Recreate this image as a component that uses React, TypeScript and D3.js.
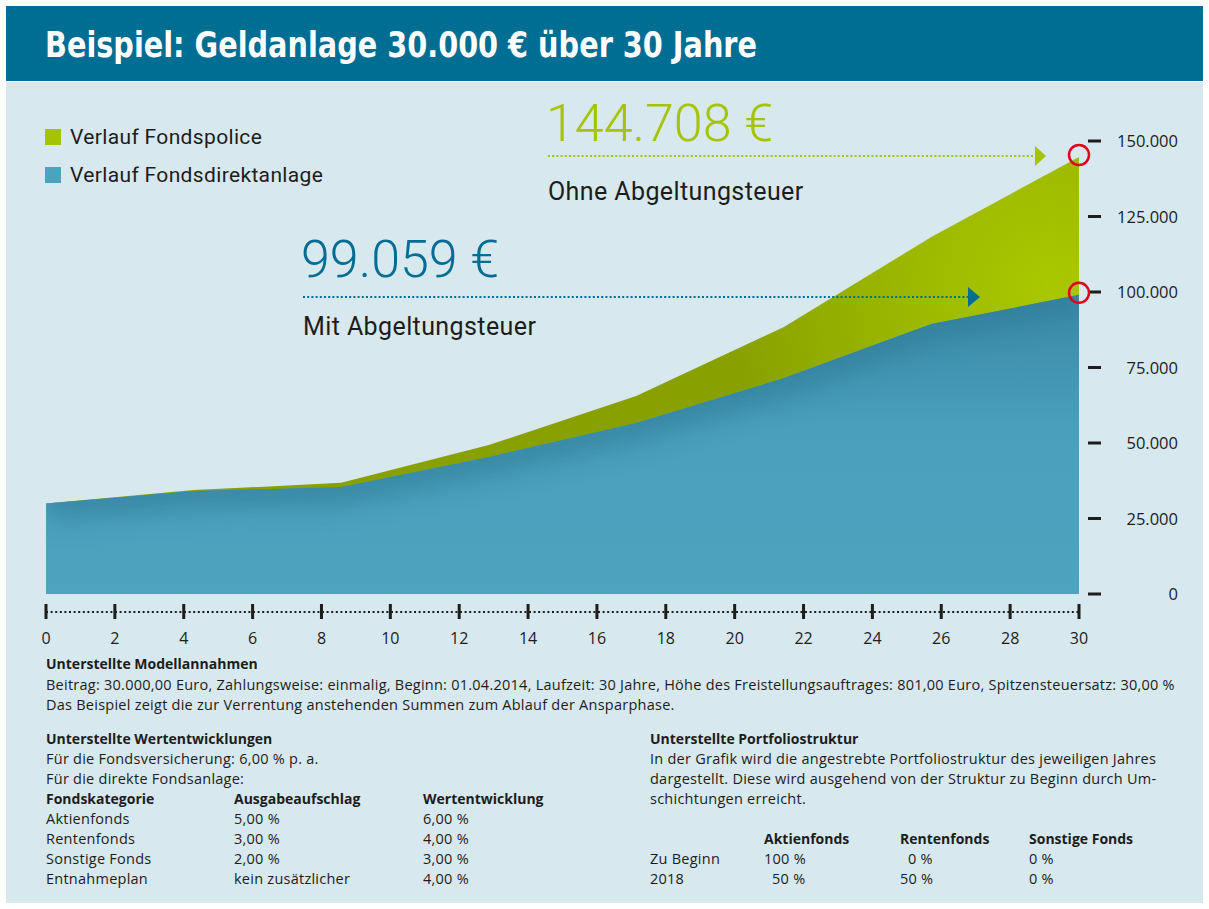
import * as d3 from "d3";

// Jahre, an denen die Kurven ihre Knickpunkte haben
const years = [0, 4.29, 8.57, 12.86, 17.14, 21.43, 25.71, 30];
// Verlauf Fondspolice (ohne Abgeltungsteuer)
const fondspolice = [30000, 34400, 36800, 49300, 65600, 88400, 118200, 144708];
// Verlauf Fondsdirektanlage (mit Abgeltungsteuer)
const direktanlage = [30000, 34100, 35400, 45400, 56600, 71500, 89400, 99059];

const yTicks = [0, 25000, 50000, 75000, 100000, 125000, 150000];
const xTicks = [0, 2, 4, 6, 8, 10, 12, 14, 16, 18, 20, 22, 24, 26, 28, 30];

const legendItems = ["Verlauf Fondspolice", "Verlauf Fondsdirektanlage"];

const modellLines = [
  "Beitrag: 30.000,00 Euro, Zahlungsweise: einmalig, Beginn: 01.04.2014, Laufzeit: 30 Jahre, Höhe des Freistellungsauftrages: 801,00 Euro, Spitzensteuersatz: 30,00 %",
  "Das Beispiel zeigt die zur Verrentung anstehenden Summen zum Ablauf der Ansparphase.",
];
const wertIntro = ["Für die Fondsversicherung: 6,00 % p. a.", "Für die direkte Fondsanlage:"];
const wertHeader = ["Fondskategorie", "Ausgabeaufschlag", "Wertentwicklung"];
const wertRows = [
  ["Aktienfonds", "5,00 %", "6,00 %"],
  ["Rentenfonds", "3,00 %", "4,00 %"],
  ["Sonstige Fonds", "2,00 %", "3,00 %"],
  ["Entnahmeplan", "kein zusätzlicher", "4,00 %"],
];
const portLines = [
  "In der Grafik wird die angestrebte Portfoliostruktur des jeweiligen Jahres",
  "dargestellt. Diese wird ausgehend von der Struktur zu Beginn durch Um-",
  "schichtungen erreicht.",
];
const portHeader = ["", "Aktienfonds", "Rentenfonds", "Sonstige Fonds"];
const portRows = [
  ["Zu Beginn", "100 %", "  0 %", "0 %"],
  ["2018", "  50 %", "50 %", "0 %"],
];

const W = 1209;
const H = 909;
const GREEN = "#a6c300";
const BLUE = "#4ca3c0";
const DARKBLUE = "#006e94";
const TEXT = "#1d1d1b";
const BODY_FONT = "'Open Sans', sans-serif";
const DISPLAY_FONT = "Roboto, sans-serif";

const de = d3.formatLocale({ decimal: ",", thousands: ".", grouping: [3], currency: ["", " €"] });
const fmt = de.format(",.0f");

export default function App() {
  const x = d3.scaleLinear().domain([0, 30]).range([46, 1079]);
  const y = d3.scaleLinear().domain([0, 150000]).range([594, 141]);

  const area = d3.area<number>()
    .x((_, i) => x(years[i]))
    .y0(y(0))
    .y1((d) => y(d));
  const topLine = d3.line<number>()
    .x((_, i) => x(years[i]))
    .y((d) => y(d));

  const last = years.length - 1;
  const gEnd = fondspolice[last];
  const bEnd = direktanlage[last];

  const body = { fontSize: 14.5, letterSpacing: 0.25 };

  return (
    <svg width={W} height={H} style={{ position: "absolute", left: 0, top: 0 }} fontFamily={BODY_FONT}>
      <defs>
        <radialGradient id="greenGrad" gradientUnits="userSpaceOnUse" cx={1050} cy={285} r={330}>
          <stop offset="0" stopColor="#a9c800" />
          <stop offset="0.35" stopColor="#9fbb00" />
          <stop offset="1" stopColor="#88a000" />
        </radialGradient>
        <linearGradient id="blueGrad" x1="0" y1="0" x2="0" y2="1">
          <stop offset="0" stopColor="#3a89a6" />
          <stop offset="0.45" stopColor="#4a9fbc" />
          <stop offset="1" stopColor="#4ea3bf" />
        </linearGradient>
        <clipPath id="blueClip">
          <path d={area(direktanlage) ?? ""} />
        </clipPath>
        <filter id="soft" x="-20%" y="-20%" width="140%" height="140%">
          <feGaussianBlur stdDeviation="14" />
        </filter>
      </defs>

      {/* Hintergrund */}
      <rect x={6} y={6} width={1197} height={75} fill="#006d93" />
      <rect x={6} y={82} width={1197} height={821} fill="#d7e8ef" />
      <text x={45} y={57} fill="#fff" fontFamily="'DejaVu Sans', sans-serif" fontWeight="bold" fontSize={35}
        textLength={712} lengthAdjust="spacingAndGlyphs">
        Beispiel: Geldanlage 30.000 € über 30 Jahre
      </text>

      {/* Flächen */}
      <path d={area(fondspolice) ?? ""} fill="url(#greenGrad)" />
      <path d={area(direktanlage) ?? ""} fill="url(#blueGrad)" />
      <g clipPath="url(#blueClip)">
        <path d={topLine(direktanlage) ?? ""} fill="none" stroke="#2e7b98" strokeWidth={30} filter="url(#soft)" opacity={0.75} />
        <line x1={x(0) - 4} x2={x(0) - 4} y1={y(0)} y2={y(40000)} stroke="#2e7b98" strokeWidth={16} filter="url(#soft)" opacity={0.7} />
      </g>

      {/* y-Achse */}
      {yTicks.map((t) => (
        <g key={t}>
          <rect x={1088} y={y(t) - 1.5} width={13} height={3} fill={TEXT} />
          <text x={1178} y={y(t) + 6} textAnchor="end" fontSize={16.5} fill={TEXT}>
            {fmt(t)}
          </text>
        </g>
      ))}

      {/* x-Achse */}
      <line x1={x(0)} x2={x(30)} y1={612} y2={612} stroke={TEXT} strokeWidth={2} strokeDasharray="2 2.6" />
      {xTicks.map((t) => (
        <g key={t}>
          <rect x={x(t) - 1.5} y={604} width={3} height={15} fill={TEXT} />
          <text x={x(t)} y={644} textAnchor="middle" fontSize={16} fill={TEXT}>
            {t}
          </text>
        </g>
      ))}

      {/* Markierungen */}
      {[gEnd, bEnd].map((v) => (
        <circle key={v} cx={x(30)} cy={y(v) - 2} r={10} fill="none" stroke="#e2001a" strokeWidth={2.5} />
      ))}

      {/* Legende */}
      {legendItems.map((l, i) => (
        <g key={l} transform={`translate(45,${129 + i * 38})`}>
          <rect width={16} height={16} fill={i === 0 ? GREEN : BLUE} />
          <text x={25} y={15} fontSize={21} letterSpacing={0.35} fontFamily={DISPLAY_FONT} fill={TEXT}>
            {l}
          </text>
        </g>
      ))}

      {/* Annotation Fondspolice */}
      <text x={546} y={141} fontSize={52} fontWeight={300} fontFamily={DISPLAY_FONT} fill={GREEN}>
        {de.format("$,.0f")(gEnd)}
      </text>
      <line x1={548} x2={1034} y1={156} y2={156} stroke={GREEN} strokeWidth={2.2} strokeDasharray="2 2.2" />
      <path d="M1035,146 L1046,156 L1035,166 Z" fill={GREEN} />
      <text x={548} y={200} fontSize={25} letterSpacing={0.4} fontFamily={DISPLAY_FONT} fill={TEXT}>
        Ohne Abgeltungsteuer
      </text>

      {/* Annotation Direktanlage */}
      <text x={301} y={277} fontSize={52} fontWeight={300} fontFamily={DISPLAY_FONT} fill={DARKBLUE}>
        {de.format("$,.0f")(bEnd)}
      </text>
      <line x1={303} x2={968} y1={297} y2={297} stroke={DARKBLUE} strokeWidth={2.2} strokeDasharray="2 2.2" />
      <path d="M968,287 L980,297 L968,307 Z" fill={DARKBLUE} />
      <text x={303} y={335} fontSize={25} letterSpacing={0.4} fontFamily={DISPLAY_FONT} fill={TEXT}>
        Mit Abgeltungsteuer
      </text>

      {/* Fußnoten */}
      <g fill={TEXT}>
        <text x={46} y={669} fontSize={14} fontWeight="bold">Unterstellte Modellannahmen</text>
        {modellLines.map((l, i) => (
          <text key={i} x={46} y={690 + i * 19.5} {...body}>{l}</text>
        ))}

        <text x={46} y={744} fontSize={14} fontWeight="bold">Unterstellte Wertentwicklungen</text>
        {wertIntro.map((l, i) => (
          <text key={i} x={46} y={764 + i * 20} {...body}>{l}</text>
        ))}
        {wertHeader.map((h, j) => (
          <text key={h} x={[46, 234, 423][j]} y={804} fontSize={14} fontWeight="bold">{h}</text>
        ))}
        {wertRows.map((r, i) =>
          r.map((c, j) => (
            <text key={`${i}-${j}`} x={[46, 234, 423][j]} y={824 + i * 20} {...body}>{c}</text>
          ))
        )}

        <text x={650} y={744} fontSize={14} fontWeight="bold">Unterstellte Portfoliostruktur</text>
        {portLines.map((l, i) => (
          <text key={i} x={650} y={764 + i * 20} {...body}>{l}</text>
        ))}
        {portHeader.map((h, j) => (
          <text key={j} x={[650, 764, 900, 1029][j]} y={844} fontSize={14} fontWeight="bold">{h}</text>
        ))}
        {portRows.map((r, i) =>
          r.map((c, j) => (
            <text key={`${i}-${j}`} x={[650, 764, 900, 1029][j]} y={864 + i * 20} {...body} style={{ whiteSpace: "pre" }}>{c}</text>
          ))
        )}
      </g>
    </svg>
  );
}
